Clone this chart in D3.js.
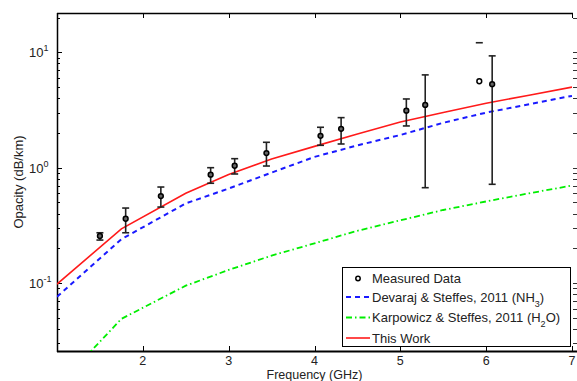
<!DOCTYPE html>
<html><head><meta charset="utf-8">
<script src="https://cdn.jsdelivr.net/npm/d3@7"></script>
<style>body{margin:0;background:#fff;} text{font-family:"Liberation Sans",Arial,sans-serif;}</style>
</head><body><svg id="c" width="577" height="381"></svg>
<script>
// Measured data
const measFreq = [1.50, 1.80, 2.21, 2.79, 3.07, 3.44, 4.07, 4.31, 5.07, 5.29, 5.92, 6.07];
const measVal  = [0.256, 0.361, 0.568, 0.870, 1.04, 1.34, 1.89, 2.17, 3.12, 3.50, 5.61, 5.29];
const measLow  = [0.236, 0.273, 0.456, 0.733, 0.882, 1.034, 1.563, 1.605, 2.30, 0.671, null, 0.718];
const measHigh = [0.273, 0.447, 0.680, 1.00, 1.197, 1.66, 2.24, 2.715, 3.94, 6.37, 12.1, 9.31];
const measOpen = [false, false, false, false, false, false, false, false, false, false, true, false];
// Model curves
const modelFreq = [1.0, 1.75, 2.5, 3.0, 3.5, 4.0, 4.5, 5.0, 5.5, 6.0, 6.5, 7.0];
const thisWork  = [0.098, 0.295, 0.60, 0.873, 1.19, 1.53, 1.96, 2.49, 3.01, 3.62, 4.25, 4.99];
const devaraj   = [0.076, 0.240, 0.49, 0.66, 0.907, 1.24, 1.56, 1.92, 2.45, 3.0, 3.55, 4.19];
const karpowicz = [0.0125, 0.049, 0.095, 0.13, 0.173, 0.221, 0.284, 0.35, 0.43, 0.51, 0.60, 0.70];
// Ticks
const xTicks = [2, 3, 4, 5, 6, 7];
const yMajor = [0.1, 1, 10];
const yMajorExp = ["-1", "0", "1"];

const svg = d3.select("#c");
const L = 57, R = 572, T = 13, B = 351;
const x = d3.scaleLinear().domain([1, 7]).range([L, R]);
const y = d3.scaleLog().domain([0.0258, 21.9]).range([B, T]);

svg.append("defs").append("clipPath").attr("id", "clip")
  .append("rect").attr("x", L).attr("y", T).attr("width", R - L).attr("height", B - T);

// minor ticks
const minor = [];
for (let e = -2; e <= 1; e++) for (let m = 1; m <= 9; m++) {
  const v = m * Math.pow(10, e);
  if (v >= 0.0258 && v <= 21.9) minor.push(v);
}
const axG = svg.append("g").attr("stroke", "#000").attr("stroke-width", 1);
minor.forEach(v => {
  const isMaj = yMajor.includes(v);
  const len = isMaj ? 5 : 3;
  const yy = Math.round(y(v)) + 0.5;
  axG.append("line").attr("x1", L).attr("x2", L + len).attr("y1", yy).attr("y2", yy);
  axG.append("line").attr("x1", R + 1).attr("x2", R + 1 + len + 1).attr("y1", yy).attr("y2", yy).attr("stroke", "#333");
});
xTicks.forEach(v => {
  const xx = Math.round(x(v)) + 0.5;
  axG.append("line").attr("x1", xx).attr("x2", xx).attr("y1", B).attr("y2", B - 5);
  axG.append("line").attr("x1", xx).attr("x2", xx).attr("y1", T).attr("y2", T + 5);
});
// frame (left, top, bottom)
axG.append("line").attr("x1", L + 0.5).attr("x2", L + 0.5).attr("y1", T).attr("y2", B + 1).attr("stroke-width", 1.5);
axG.append("line").attr("x1", L).attr("x2", R + 1).attr("y1", T + 0.5).attr("y2", T + 0.5).attr("stroke-width", 1.3);
axG.append("line").attr("x1", L).attr("x2", 577).attr("y1", B + 0.5).attr("y2", B + 0.5).attr("stroke-width", 1.8);

// tick labels
svg.append("g").selectAll("text").data(xTicks).join("text")
  .attr("x", d => x(d)).attr("y", 364.5).attr("text-anchor", "middle")
  .attr("font-size", 12.5).attr("fill", "#222").text(d => d);
yMajor.forEach((v, i) => {
  const t = svg.append("text").attr("x", 29).attr("y", y(v) + 5).attr("font-size", 13).attr("fill", "#222");
  t.append("tspan").text("10");
  t.append("tspan").attr("dy", -6).attr("font-size", 9).text(yMajorExp[i]);
});
// axis titles
svg.append("text").attr("x", (L + R) / 2).attr("y", 379).attr("text-anchor", "middle")
  .attr("font-size", 12.5).attr("fill", "#222").text("Frequency (GHz)");
svg.append("text").attr("transform", `translate(23,${(T + B) / 2}) rotate(-90)`).attr("text-anchor", "middle")
  .attr("font-size", 13).attr("fill", "#222").text("Opacity (dB/km)");

// curves
const plot = svg.append("g").attr("clip-path", "url(#clip)");
const line = d3.line().x(d => x(d[0])).y(d => y(d[1]));
plot.append("path").datum(modelFreq.map((f, i) => [f, karpowicz[i]])).attr("d", line)
  .attr("fill", "none").attr("stroke", "#00ee00").attr("stroke-width", 1.8).attr("stroke-dasharray", "6,3,1.5,3");
plot.append("path").datum(modelFreq.map((f, i) => [f, devaraj[i]])).attr("d", line)
  .attr("fill", "none").attr("stroke", "#1a1aff").attr("stroke-width", 2).attr("stroke-dasharray", "5,4");
plot.append("path").datum(modelFreq.map((f, i) => [f, thisWork[i]])).attr("d", line)
  .attr("fill", "none").attr("stroke", "#ff1a1a").attr("stroke-width", 1.6);

// error bars
const eb = plot.append("g").attr("stroke", "#222").attr("stroke-width", 1.6);
measFreq.forEach((f, i) => {
  const xx = x(f);
  if (measLow[i] !== null && measHigh[i] !== null)
    eb.append("line").attr("x1", xx).attr("x2", xx).attr("y1", y(measLow[i])).attr("y2", y(measHigh[i]));
  [measLow[i], measHigh[i]].forEach(v => {
    if (v !== null) eb.append("line").attr("x1", xx - 3.5).attr("x2", xx + 3.5).attr("y1", y(v)).attr("y2", y(v));
  });
});
plot.append("g").selectAll("circle").data(measFreq).join("circle")
  .attr("cx", d => x(d)).attr("cy", (d, i) => y(measVal[i])).attr("r", 2.4)
  .attr("fill", (d, i) => measOpen[i] ? "#fff" : "#666").attr("stroke", "#000").attr("stroke-width", 1.5);

// legend
const lg = svg.append("g");
lg.append("rect").attr("x", 342.5).attr("y", 267.5).attr("width", 228).attr("height", 79)
  .attr("fill", "#fff").attr("stroke", "#000").attr("stroke-width", 1);
const ly = [278.5, 297, 317.5, 338];
lg.append("circle").attr("cx", 358).attr("cy", ly[0]).attr("r", 2.2).attr("fill", "#fff").attr("stroke", "#000").attr("stroke-width", 1.5);
lg.append("line").attr("x1", 346).attr("x2", 370).attr("y1", ly[1]).attr("y2", ly[1])
  .attr("stroke", "#1a1aff").attr("stroke-width", 2).attr("stroke-dasharray", "5,4");
lg.append("line").attr("x1", 346).attr("x2", 370).attr("y1", ly[2]).attr("y2", ly[2])
  .attr("stroke", "#00ee00").attr("stroke-width", 1.8).attr("stroke-dasharray", "6,3,1.5,3");
lg.append("line").attr("x1", 346).attr("x2", 370).attr("y1", ly[3]).attr("y2", ly[3])
  .attr("stroke", "#ff1a1a").attr("stroke-width", 1.6);
const lt = (i) => lg.append("text").attr("x", 372).attr("y", ly[i] + 4.5).attr("font-size", 13).attr("fill", "#222");
lt(0).text("Measured Data");
const t1 = lt(1); t1.append("tspan").text("Devaraj & Steffes, 2011 (NH");
t1.append("tspan").attr("dy", 5).attr("font-size", 9).text("3"); t1.append("tspan").attr("dy", -5).text(")");
const t2 = lt(2); t2.append("tspan").text("Karpowicz & Steffes, 2011 (H");
t2.append("tspan").attr("dy", 5).attr("font-size", 9).text("2"); t2.append("tspan").attr("dy", -5).text("O)");
lt(3).text("This Work");
</script></body></html>
